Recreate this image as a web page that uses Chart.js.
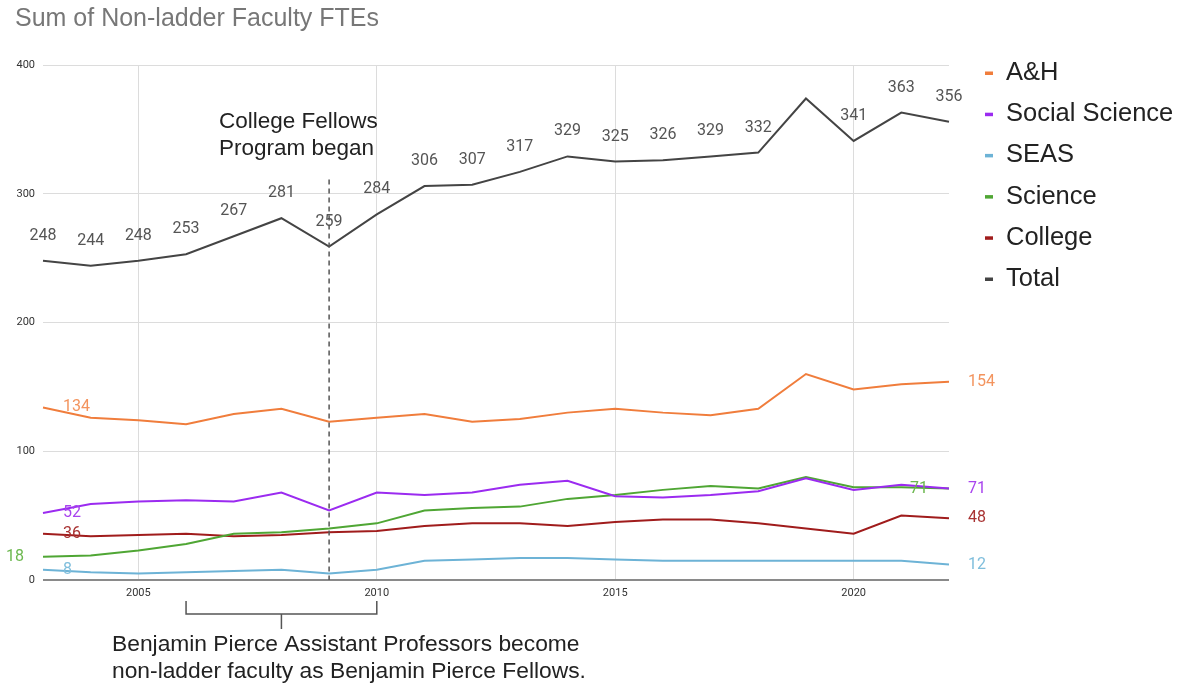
<!DOCTYPE html>
<html>
<head>
<meta charset="utf-8">
<script src="https://cdn.jsdelivr.net/npm/chart.js@4"></script>
<style>
  html, body { margin: 0; padding: 0; background: #fff; }
  #wrap { width: 1183px; height: 684px; }
</style>
</head>
<body>
<div id="wrap"><canvas id="fteChart"></canvas></div>
<script>
const years = [2003, 2004, 2005, 2006, 2007, 2008, 2009, 2010, 2011, 2012,
               2013, 2014, 2015, 2016, 2017, 2018, 2019, 2020, 2021, 2022];
const ahValues      = [134, 126, 124, 121, 129, 133, 123, 126, 129, 123, 125, 130, 133, 130, 128, 133, 160, 148, 152, 154];
const socialValues  = [52, 59, 61, 62, 61, 68, 54, 68, 66, 68, 74, 77, 65, 64, 66, 69, 79, 70, 74, 71];
const seasValues    = [8, 6, 5, 6, 7, 8, 5, 8, 15, 16, 17, 17, 16, 15, 15, 15, 15, 15, 15, 12];
const scienceValues = [18, 19, 23, 28, 36, 37, 40, 44, 54, 56, 57, 63, 66, 70, 73, 71, 80, 72, 72, 71];
const collegeValues = [36, 34, 35, 36, 34, 35, 37, 38, 42, 44, 44, 42, 45, 47, 47, 44, 40, 36, 50, 48];
const totalValues   = [248, 244, 248, 253, 267, 281, 259, 284, 306, 307, 317, 329, 325, 326, 329, 332, 374, 341, 363, 356];
const yTicks = [0, 100, 200, 300, 400];
const hiddenTotalLabels = [2019];

const seriesNames  = ["A&H", "Social Science", "SEAS", "Science", "College", "Total"];
const seriesColors = ["#f07d3c", "#9b2bf0", "#6db3d6", "#4fa634", "#a01c1c", "#444444"];
const labelColors  = ["#f3945e", "#a844ee", "#7fbedc", "#6cb84f", "#a83232", "#555555"];

const NUM_FONT = "Roboto, 'Liberation Sans', Arial, sans-serif";
const TXT_FONT = "'Liberation Sans', Arial, Helvetica, sans-serif";

const extras = {
  id: "extras",
  afterDatasetsDraw(chart) {
    const ctx = chart.ctx;
    const x = chart.scales.x, y = chart.scales.y;
    const area = chart.chartArea;
    ctx.save();

    // dashed marker at 2009
    const xf = x.getPixelForValue(years.indexOf(2009));
    ctx.strokeStyle = "#555";
    ctx.lineWidth = 1.5;
    ctx.setLineDash([5, 4]);
    ctx.beginPath();
    ctx.moveTo(xf, y.getPixelForValue(311));
    ctx.lineTo(xf, area.bottom);
    ctx.stroke();
    ctx.setLineDash([]);

    // total labels above the points
    const totalMeta = chart.getDatasetMeta(5);
    ctx.font = "16px " + NUM_FONT;
    ctx.fillStyle = "#555";
    ctx.textAlign = "center";
    ctx.textBaseline = "middle";
    totalMeta.data.forEach((pt, i) => {
      if (hiddenTotalLabels.includes(years[i])) return;
      ctx.fillText(totalValues[i], pt.x, pt.y - 25);
    });

    // first / last value labels for each department
    const ends = [
      { ds: 0, left: "in", right: "out" },
      { ds: 1, left: "in", right: "out" },
      { ds: 2, left: "in", right: "out" },
      { ds: 3, left: "outL", right: "inR" },
      { ds: 4, left: "in", right: "out" },
    ];
    ctx.font = "16px " + NUM_FONT;
    ends.forEach(e => {
      const meta = chart.getDatasetMeta(e.ds);
      const vals = chart.data.datasets[e.ds].data;
      const p0 = meta.data[0], p1 = meta.data[meta.data.length - 1];
      ctx.fillStyle = labelColors[e.ds];
      if (e.left === "in") {
        ctx.textAlign = "left";
        ctx.fillText(vals[0], p0.x + 20, p0.y);
      } else {
        ctx.textAlign = "right";
        ctx.fillText(vals[0], p0.x - 19, p0.y);
      }
      if (e.right === "out") {
        ctx.textAlign = "left";
        ctx.fillText(vals[vals.length - 1], p1.x + 19, p1.y);
      } else {
        ctx.textAlign = "center";
        ctx.fillText(vals[vals.length - 1], p1.x - 30, p1.y);
      }
    });
    ctx.restore();
  },
  afterDraw(chart) {
    const ctx = chart.ctx;
    const x = chart.scales.x;
    const area = chart.chartArea;
    ctx.save();

    // title
    ctx.font = "25px " + TXT_FONT;
    ctx.fillStyle = "#777";
    ctx.textAlign = "left";
    ctx.textBaseline = "middle";
    ctx.fillText("Sum of Non-ladder Faculty FTEs", 15, 19);

    // legend
    ctx.font = "25.5px " + TXT_FONT;
    seriesNames.forEach((name, i) => {
      const ly = 73 + i * 41.2;
      ctx.fillStyle = seriesColors[i];
      ctx.fillRect(985, ly - 1.5, 8, 3.5);
      ctx.fillStyle = "#222";
      ctx.fillText(name, 1006, ly);
    });

    // College Fellows annotation
    ctx.font = "22.5px " + TXT_FONT;
    ctx.fillStyle = "#222";
    ctx.fillText("College Fellows", 219, 122);
    ctx.fillText("Program began", 219, 149);

    // bracket under 2006-2010
    const bx0 = x.getPixelForValue(years.indexOf(2006));
    const bx1 = x.getPixelForValue(years.indexOf(2010));
    const bmid = (bx0 + bx1) / 2;
    ctx.strokeStyle = "#555";
    ctx.lineWidth = 1.5;
    ctx.beginPath();
    ctx.moveTo(bx0, area.bottom + 21);
    ctx.lineTo(bx0, area.bottom + 34);
    ctx.lineTo(bx1, area.bottom + 34);
    ctx.lineTo(bx1, area.bottom + 21);
    ctx.moveTo(bmid, area.bottom + 34);
    ctx.lineTo(bmid, area.bottom + 49);
    ctx.stroke();

    ctx.font = "22.8px " + TXT_FONT;
    ctx.fillStyle = "#222";
    ctx.fillText("Benjamin Pierce Assistant Professors become", 112, 645);
    ctx.fillText("non-ladder faculty as Benjamin Pierce Fellows.", 112, 672);
    ctx.restore();
  }
};

const allValues = [ahValues, socialValues, seasValues, scienceValues, collegeValues, totalValues];

new Chart("fteChart", {
  type: "line",
  data: {
    labels: years,
    datasets: allValues.map((vals, i) => ({
      label: seriesNames[i],
      data: vals,
      borderColor: seriesColors[i],
      backgroundColor: seriesColors[i],
      borderWidth: 2,
      pointRadius: 0,
      tension: 0,
      fill: false,
    })),
  },
  options: {
    responsive: true,
    maintainAspectRatio: false,
    animation: false,
    layout: { padding: { top: 65, right: 234, left: 0, bottom: 0 } },
    plugins: {
      legend: { display: false },
      title: { display: false },
      tooltip: { enabled: false },
    },
    scales: {
      x: {
        type: "category",
        offset: false,
        afterFit: (scale) => { scale.height = 104; },
        border: { display: false },
        grid: { color: "#dcdcdc", drawTicks: false },
        ticks: {
          autoSkip: false,
          maxRotation: 0,
          padding: 7,
          color: "#333",
          font: { size: 11, family: NUM_FONT },
          callback: (val, i) => (years[i] % 5 === 0 ? String(years[i]) : null),
        },
      },
      y: {
        min: 0,
        max: 400,
        afterFit: (scale) => { scale.width = 43; },
        afterBuildTicks: (scale) => { scale.ticks = yTicks.map(v => ({ value: v })); },
        border: { display: false },
        grid: {
          drawTicks: false,
          color: (c) => (c.tick && c.tick.value === 0 ? "#8a8a8a" : "#dcdcdc"),
          lineWidth: (c) => (c.tick && c.tick.value === 0 ? 2 : 1),
        },
        ticks: {
          padding: 8,
          color: "#333",
          font: { size: 11, family: NUM_FONT },
        },
      },
    },
  },
  plugins: [extras],
});
</script>
</body>
</html>
